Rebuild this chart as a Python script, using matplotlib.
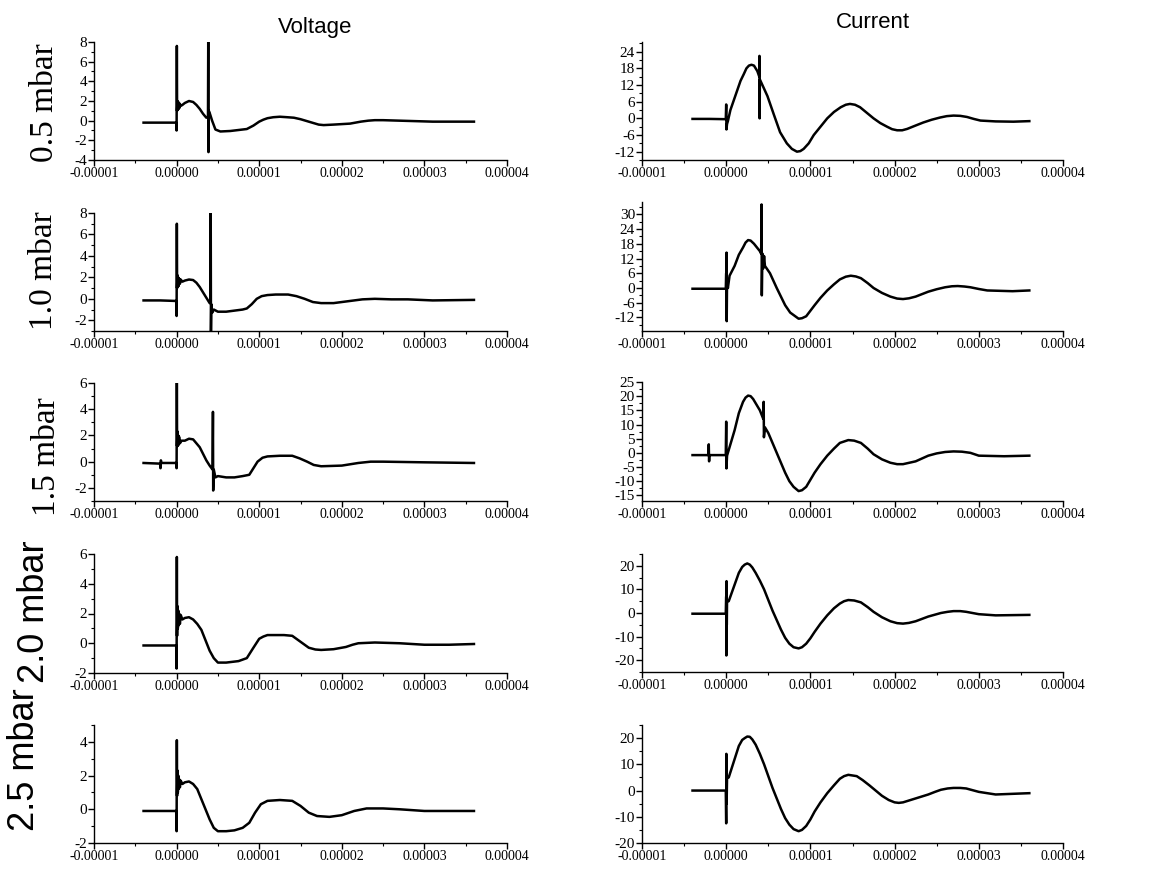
import matplotlib
matplotlib.use("Agg")
import matplotlib.pyplot as plt
from matplotlib.ticker import MultipleLocator, FuncFormatter
import numpy as np

# Traces: (time in microseconds, value)
PRESSURES = ["0.5 mbar", "1.0 mbar", "1.5 mbar", "2.0 mbar", "2.5 mbar"]

V_05 = [(-4, -0.2), (-2, -0.2), (-0.05, -0.2), (0, -1.0), (0.03, 7.6), (0.06, 1.0),
        (0.1, 2.0), (0.15, 1.1), (0.2, 1.9), (0.25, 1.2), (0.3, 1.8), (0.35, 1.3),
        (0.4, 1.7), (0.5, 1.5), (0.7, 1.6), (1.0, 1.8), (1.5, 2.0), (2.0, 1.9),
        (2.4, 1.6), (2.8, 1.2), (3.2, 0.7), (3.6, 0.3), (3.8, 0.4), (3.83, 8.0),
        (3.86, -3.2), (3.9, 1.0), (4.0, 0.8), (4.3, 0.0), (4.7, -0.9), (5.3, -1.1),
        (6.5, -1.05), (7.5, -0.95), (8.5, -0.85), (9.3, -0.5), (10.0, -0.1),
        (10.5, 0.1), (11.0, 0.25), (11.7, 0.35), (12.5, 0.4), (13.4, 0.35),
        (14.2, 0.3), (15.0, 0.15), (15.8, -0.05), (16.6, -0.25), (17.2, -0.4),
        (17.8, -0.45), (19.0, -0.4), (20.0, -0.35), (21.0, -0.3), (22.3, -0.1),
        (23.2, 0.0), (24.0, 0.05), (25.0, 0.05), (27.0, 0.0), (29.0, -0.05),
        (31.0, -0.1), (36.0, -0.1)]

I_05 = [(-4, -0.2), (-2, -0.2), (-0.05, -0.3), (0, 5), (0.03, -4), (0.1, -2), (0.2, -1),
        (0.5, 3), (0.9, 6.5), (1.3, 10), (1.7, 13.5), (2.1, 16), (2.4, 18), (2.7, 19),
        (3.0, 19.3), (3.3, 19), (3.7, 17), (3.93, 15), (3.95, 22.5), (3.97, 0),
        (4.0, 14), (4.3, 12), (4.9, 8), (5.3, 4.5), (5.7, 1), (6.4, -5), (7.2, -9),
        (7.8, -11), (8.4, -12), (8.8, -11.8), (9.2, -11), (9.8, -9), (10.4, -6),
        (11.2, -3), (12, 0), (12.8, 2.3), (13.6, 4), (14.2, 4.9), (14.7, 5.2),
        (15.3, 4.9), (15.9, 4), (16.7, 2), (17.5, 0), (18.3, -1.7), (19.1, -3),
        (19.7, -3.9), (20.3, -4.3), (20.9, -4.3), (21.5, -3.8), (22.4, -2.7),
        (23.4, -1.5), (24.4, -0.5), (25.4, 0.3), (26.2, 0.8), (27, 1.0), (27.8, 0.9),
        (28.6, 0.5), (29.4, -0.2), (30.2, -0.8), (32, -1.1), (34.1, -1.2), (36, -1.0)]

V_10 = [(-4, -0.15), (-2, -0.15), (-0.05, -0.2), (0, -1.6), (0.03, 7.0), (0.06, 1.0),
        (0.1, 2.2), (0.15, 1.1), (0.2, 2.0), (0.25, 1.2), (0.3, 1.9), (0.4, 1.4),
        (0.5, 1.8), (0.7, 1.6), (1.0, 1.7), (1.5, 1.8), (2.0, 1.75), (2.4, 1.5),
        (2.8, 1.1), (3.2, 0.6), (3.6, 0.1), (4.0, -0.4), (4.1, -0.3), (4.13, 8.3),
        (4.16, -3.0), (4.2, -0.5), (4.3, -1.3), (4.5, -1.0), (5.0, -1.2), (6.0, -1.2),
        (7.0, -1.1), (8.0, -1.0), (8.5, -0.9), (9.1, -0.5), (9.7, 0.0), (10.3, 0.25),
        (11.0, 0.35), (12.0, 0.4), (13.5, 0.4), (14.5, 0.25), (15.5, 0.0),
        (16.5, -0.3), (17.5, -0.4), (19.0, -0.4), (21.0, -0.2), (22.5, -0.05),
        (24.0, 0.0), (26.0, -0.05), (28.0, -0.05), (31.0, -0.15), (36.0, -0.1)]

I_10 = [(-4, -0.3), (-2, -0.3), (-0.05, -0.3), (0, 6), (0.02, -5), (0.04, 14.4),
        (0.06, -13.5), (0.1, 3), (0.2, 0), (0.4, 5), (1.0, 9), (1.5, 13.5),
        (2.0, 16.5), (2.3, 18.5), (2.6, 19.5), (2.9, 19.3), (3.3, 18), (4.0, 15),
        (4.15, 14), (4.2, 34), (4.23, -3), (4.3, 14), (4.4, 8), (4.5, 13), (4.6, 9),
        (5.2, 6), (6.0, 0), (7.0, -7), (7.6, -10), (8.0, -11), (8.6, -12.5),
        (9.0, -12.3), (9.5, -11.5), (10.5, -7), (11.2, -4), (12, -1), (12.8, 1.5),
        (13.5, 3.5), (14.2, 4.6), (14.8, 5), (15.4, 4.7), (16, 4), (16.8, 2),
        (17.5, 0), (18.5, -2), (19.5, -3.5), (20.3, -4.3), (21, -4.5), (21.7, -4.2),
        (22.5, -3.5), (24, -1.5), (25, -0.5), (26, 0.3), (26.8, 0.7), (27.5, 0.8),
        (28.3, 0.6), (29, 0.3), (30, -0.4), (31, -1), (34, -1.3), (36, -1)]

V_15 = [(-4, -0.1), (-2.0, -0.15), (-1.95, -0.5), (-1.9, 0.1), (-1.85, -0.1),
        (-0.05, -0.1), (0, -0.5), (0.03, 6.1), (0.06, 1.2), (0.1, 2.3), (0.15, 1.2),
        (0.2, 2.0), (0.25, 1.3), (0.3, 1.9), (0.4, 1.4), (0.6, 1.6), (1.0, 1.6),
        (1.5, 1.75), (2.0, 1.7), (2.4, 1.4), (2.8, 1.1), (3.2, 0.6), (3.6, 0.1),
        (4.0, -0.3), (4.35, -0.6), (4.4, 3.8), (4.43, -2.2), (4.5, -0.6), (4.7, -1.2),
        (5.0, -1.1), (6.0, -1.2), (7.0, -1.2), (8.0, -1.1), (8.8, -1.0), (9.3, -0.5),
        (9.8, 0.0), (10.4, 0.3), (11.0, 0.4), (12.5, 0.45), (14.0, 0.45),
        (14.9, 0.25), (15.8, 0.0), (16.6, -0.25), (17.5, -0.35), (20.0, -0.3),
        (22.0, -0.1), (23.5, 0.0), (25.0, 0.0), (30.0, -0.05), (36.0, -0.1)]

I_15 = [(-4, -0.8), (-2.1, -0.8), (-2.07, 3), (-2.03, -3), (-2.0, -0.8), (-0.05, -0.8),
        (0, 11), (0.03, -5.5), (0.1, -1), (0.5, 3), (1.0, 8), (1.5, 14), (2.0, 18),
        (2.3, 19.5), (2.6, 20.2), (2.9, 20), (3.2, 19), (4.0, 15), (4.4, 12),
        (4.45, 18), (4.48, 5.5), (4.6, 9), (5.0, 7), (5.5, 3.5), (6.0, 0), (7.0, -7),
        (7.5, -10), (8.0, -12), (8.6, -13.5), (9.0, -13.2), (9.5, -12), (10.5, -7),
        (11.2, -4), (12, -1), (12.8, 1.5), (13.5, 3.5), (14.5, 4.5), (15.2, 4.3),
        (16, 3.5), (16.8, 1.5), (17.5, -0.5), (18.5, -2.3), (19.5, -3.5),
        (20.3, -4), (21, -4), (22.5, -3), (24, -1), (25, -0.2), (26, 0.3),
        (27, 0.5), (28, 0.4), (29, 0), (30, -1), (33, -1.2), (36, -1)]

V_20 = [(-4, -0.15), (-2, -0.15), (-0.05, -0.15), (0, -1.7), (0.03, 5.8), (0.06, 0.5),
        (0.1, 2.5), (0.15, 1.0), (0.2, 2.2), (0.25, 1.2), (0.3, 2.0), (0.4, 1.3),
        (0.5, 1.9), (0.7, 1.6), (1.0, 1.7), (1.5, 1.75), (2.0, 1.6), (2.5, 1.3),
        (3.0, 0.9), (3.5, 0.2), (4.0, -0.5), (4.5, -1.0), (5.0, -1.3), (6.0, -1.3),
        (7.5, -1.2), (8.5, -1.0), (9.3, -0.3), (10.0, 0.3), (10.5, 0.45), (11.0, 0.55),
        (13.0, 0.55), (14.0, 0.5), (14.5, 0.3), (15.0, 0.1), (16.0, -0.3),
        (16.8, -0.42), (17.5, -0.45), (19.0, -0.4), (20.5, -0.25), (21.3, -0.1),
        (22.0, 0.0), (24.0, 0.05), (27.0, 0.0), (30.0, -0.1), (33.0, -0.1),
        (36.0, -0.05)]

I_20 = [(-4, -0.3), (-2, -0.3), (-0.05, -0.3), (0, 7), (0.02, -18), (0.04, 13.5),
        (0.07, -5), (0.1, 5), (0.3, 5), (0.5, 7), (1.0, 12), (1.5, 17), (1.9, 19.5),
        (2.2, 20.5), (2.5, 21), (2.8, 20.5), (3.1, 19.3), (3.5, 17), (4.0, 13.7),
        (4.5, 10), (5.0, 5.5), (5.5, 1), (6.0, -3), (6.5, -7), (7.0, -10.5),
        (7.5, -13), (8.0, -14.5), (8.6, -15), (9.0, -14.5), (9.5, -13), (10.0, -10.7),
        (10.5, -8), (11.2, -4.5), (12, -1), (12.8, 2), (13.5, 4), (14.0, 5),
        (14.5, 5.5), (15.2, 5.3), (16, 4.5), (16.8, 2.5), (17.5, 0.5), (18.5, -1.8),
        (19.5, -3.5), (20.3, -4.3), (21, -4.5), (21.7, -4.2), (22.5, -3.5),
        (24, -1.5), (24.8, -0.7), (25.5, 0), (26.3, 0.5), (27, 0.8), (27.8, 0.8),
        (28.5, 0.5), (30, -0.5), (32, -1), (36, -0.8)]

V_25 = [(-4, -0.1), (-2, -0.1), (-0.05, -0.1), (0, -1.3), (0.03, 4.1), (0.06, 0.8),
        (0.1, 2.3), (0.15, 1.0), (0.2, 2.0), (0.25, 1.2), (0.3, 1.8), (0.4, 1.3),
        (0.5, 1.7), (0.7, 1.5), (1.0, 1.6), (1.5, 1.65), (2.0, 1.5), (2.5, 1.2),
        (3.0, 0.6), (3.5, 0.0), (4.0, -0.6), (4.5, -1.1), (5.0, -1.3), (6.0, -1.3),
        (7.0, -1.25), (8.0, -1.1), (8.8, -0.8), (9.5, -0.2), (10.2, 0.3), (11.0, 0.5),
        (12.5, 0.55), (14.0, 0.5), (15.0, 0.2), (16.0, -0.2), (17.0, -0.4),
        (18.5, -0.45), (20.0, -0.35), (21.5, -0.1), (23.0, 0.05), (25.0, 0.05),
        (27.0, 0.0), (30.0, -0.1), (33.0, -0.1), (36.0, -0.1)]

I_25 = [(-4, 0), (-2, 0), (-0.05, 0), (0, -12.5), (0.02, 14), (0.05, -5), (0.1, 5),
        (0.3, 5), (0.5, 7), (1.0, 12), (1.5, 17), (1.9, 19.3), (2.2, 20),
        (2.5, 20.6), (2.8, 20.5), (3.1, 19.5), (3.5, 17.5), (4.0, 14), (4.5, 10),
        (5.0, 5.5), (5.5, 1), (6.0, -3), (6.5, -7), (7.0, -10.5), (7.5, -13),
        (8.0, -14.7), (8.6, -15.5), (9.0, -15), (9.5, -13.5), (10.0, -11), (10.5, -8),
        (11.2, -4.5), (12, -1), (12.8, 2), (13.5, 4.5), (14.0, 5.5), (14.5, 6),
        (15.5, 5.5), (16.2, 4), (17, 2), (18.5, -2), (19.3, -3.6), (20, -4.5),
        (20.5, -4.7), (21, -4.5), (22.5, -3), (24, -1.5), (24.8, -0.5), (25.5, 0.3),
        (26.3, 0.8), (27, 1), (27.8, 1), (28.5, 0.8), (30, -0.5), (32, -1.5), (36, -1)]

VOLTAGE = [V_05, V_10, V_15, V_20, V_25]
CURRENT = [I_05, I_10, I_15, I_20, I_25]

# y-axis setup per panel: (ymin, ymax, major step, minor step)
V_AXES = [(-4, 8, 2, 1), (-3, 8, 2, 1), (-3, 6, 2, 1), (-2, 6, 2, 1), (-2, 5, 2, 1)]
I_AXES = [(-15, 27.5, 6, 3), (-17.5, 35, 6, 3), (-17, 25, 5, 2.5),
          (-25, 25, 10, 5), (-20, 25, 10, 5)]

W, H = 1167, 869
# panel boxes in pixels: (left, top, right, bottom)
V_BOX = [(94, 42, 507, 160), (94, 213, 507, 331), (94, 383, 507, 501),
         (94, 554, 507, 673), (94, 725, 507, 843)]
I_BOX = [(642, 42, 1063, 160), (642, 202, 1063, 331), (642, 382, 1063, 501),
         (642, 554, 1063, 672), (642, 725, 1063, 843)]

SERIF = "Liberation Serif"
SANS = "Liberation Sans"


def add_panel(fig, box, trace, yset):
    l, t, r, b = box
    ax = fig.add_axes([l / W, 1 - b / H, (r - l) / W, (b - t) / H])
    tt = np.array([p[0] for p in trace]) * 1e-6
    yy = np.array([p[1] for p in trace])
    ax.plot(tt, yy, color="black", lw=1.8)
    ax.set_xlim(-1e-5, 4e-5)
    ax.set_ylim(yset[0], yset[1])
    ax.xaxis.set_major_locator(MultipleLocator(1e-5))
    ax.xaxis.set_minor_locator(MultipleLocator(0.5e-5))
    ax.xaxis.set_major_formatter(FuncFormatter(lambda v, p: f"{v:.5f}"))
    ax.yaxis.set_major_locator(MultipleLocator(yset[2]))
    ax.yaxis.set_minor_locator(MultipleLocator(yset[3]))
    ax.yaxis.set_major_formatter(FuncFormatter(lambda v, p: f"{v:g}"))
    for s in ("top", "right"):
        ax.spines[s].set_visible(False)
    for s in ("left", "bottom"):
        ax.spines[s].set_linewidth(1.0)
    ax.tick_params(which="major", direction="out", length=4, width=1, pad=1)
    ax.tick_params(which="minor", direction="out", length=2, width=0.8)
    ax.tick_params(axis="x", labelsize=10)
    ax.tick_params(axis="y", labelsize=11)
    for lab in ax.get_xticklabels() + ax.get_yticklabels():
        lab.set_fontfamily(SERIF)
    ax.patch.set_alpha(0)
    return ax


fig = plt.figure(figsize=(W / 100, H / 100), dpi=100)

for i in range(5):
    add_panel(fig, V_BOX[i], VOLTAGE[i], V_AXES[i])
    add_panel(fig, I_BOX[i], CURRENT[i], I_AXES[i])

fig.text(315 / W, 1 - 28 / H, "Voltage", family=SANS, fontsize=16,
         ha="center", va="center")
fig.text(873 / W, 1 - 22 / H, "Current", family=SANS, fontsize=16,
         ha="center", va="center")

# row labels: first three in serif, last two in sans (as in the original)
LABEL_POS = [(45, 103), (44, 271), (47, 457), (35, 612), (25, 760)]
for i, name in enumerate(PRESSURES):
    fam, size = (SERIF, 24) if i < 3 else (SANS, 26)
    x, y = LABEL_POS[i]
    fig.text(x / W, 1 - y / H, name, family=fam, fontsize=size, rotation=90,
             ha="center", va="center")

fig.savefig("out.png", dpi=100)
